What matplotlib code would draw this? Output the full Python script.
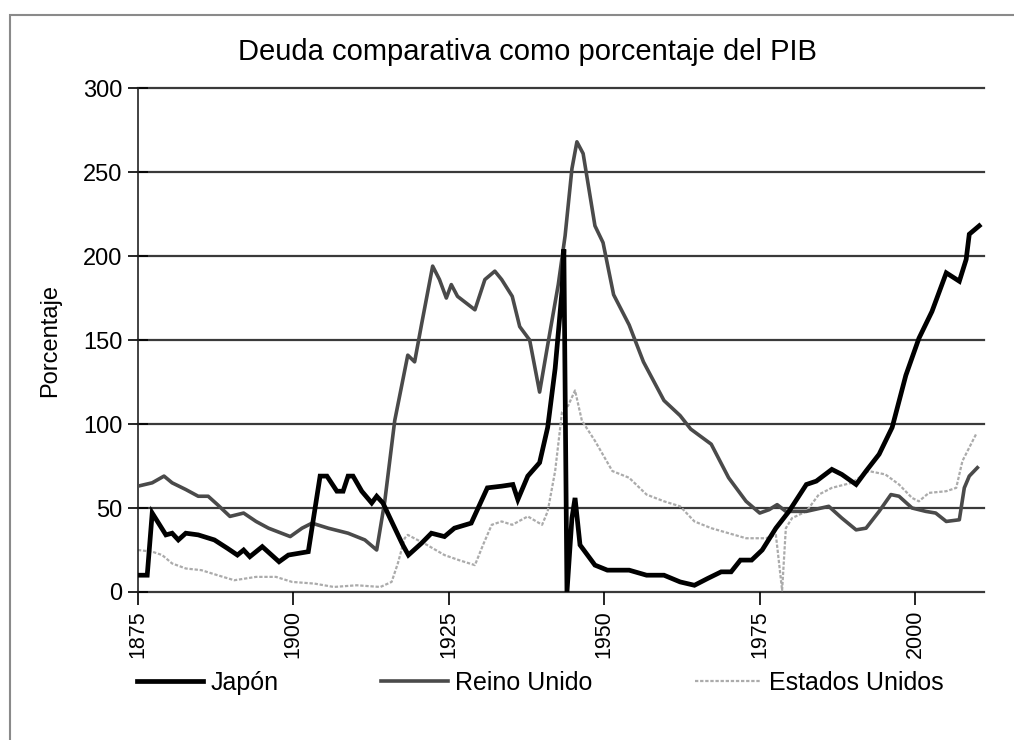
import matplotlib
matplotlib.use('Agg')
import matplotlib.pyplot as plt
from matplotlib.patches import Rectangle

plt.rcParams['font.family'] = ['Liberation Sans', 'DejaVu Sans']

# Valores (anio, % del PIB)
japan_years = [1875, 1876.5, 1877.3, 1879.5, 1880.5, 1881.5, 1882.7, 1884.7, 1887.3, 1889.4,
               1891, 1892, 1893, 1895, 1897.7, 1899.2, 1902.4, 1904.3, 1905.4, 1907,
               1908, 1908.8, 1909.6, 1911, 1912.6, 1913.4, 1914.4, 1915.8, 1917.6, 1918.5,
               1920.6, 1922.2, 1924.3, 1925.9, 1928.6, 1931.2, 1933.5, 1935.3, 1936.1, 1937.7,
               1939.6, 1940.9, 1942.1, 1943.2, 1943.5, 1944, 1944.8, 1945.3, 1946.1, 1948.5,
               1950.5, 1954, 1956.8, 1959.6, 1962.2, 1964.5, 1966.6, 1968.8, 1970.4, 1971.9,
               1973.7, 1975.4, 1977.6, 1979.7, 1982.5, 1984.1, 1986.6, 1988.2, 1990.5, 1992.1,
               1994.2, 1996.3, 1998.5, 2000.6, 2002.7, 2005, 2007.1, 2008.2, 2008.7, 2010.3]
japan_values = [10, 10, 47, 34, 35, 31, 35, 34, 31, 26,
                22, 25, 21, 27, 18, 22, 24, 69, 69, 60,
                60, 69, 69, 60, 53, 57, 53, 42, 28, 22,
                29, 35, 33, 38, 41, 62, 63, 64, 55, 69,
                77, 98, 133, 179, 204, 0, 44, 56, 28, 16,
                13, 13, 10, 10, 6, 4, 8, 12, 12, 19,
                19, 25, 38, 48, 64, 66, 73, 70, 64, 72,
                82, 98, 129, 151, 167, 190, 185, 198, 213, 218]

uk_years = [1875, 1877.3, 1879.2, 1880.5, 1882.7, 1884.7, 1886.3, 1887.8, 1889.8, 1892,
            1894, 1896, 1899.5, 1901.4, 1903, 1905.6, 1908.8, 1911.5, 1913.4, 1914.7,
            1916.3, 1918.4, 1919.5, 1920.6, 1922.4, 1923.5, 1924.6, 1925.4, 1926.4, 1929.2,
            1930.8, 1932.4, 1933.5, 1935.2, 1936.4, 1938, 1939.6, 1940.9, 1942.6, 1943.7,
            1944.8, 1945.6, 1946.6, 1948.5, 1949.8, 1951.5, 1954, 1956.3, 1959.6, 1962.2,
            1963.9, 1967.2, 1970, 1972.8, 1975, 1976.5, 1977.8, 1979.2, 1982.5, 1986.1,
            1988.2, 1990.5, 1992.1, 1994.2, 1996.1, 1997.4, 1999.5, 2001.7, 2003.3, 2005,
            2007.1, 2007.9, 2008.7, 2010]
uk_values = [63, 65, 69, 65, 61, 57, 57, 52, 45, 47,
             42, 38, 33, 38, 41, 38, 35, 31, 25, 54,
             102, 141, 137, 159, 194, 186, 175, 183, 176, 168,
             186, 191, 186, 176, 158, 150, 119, 147, 183, 212,
             252, 268, 261, 218, 208, 177, 159, 137, 114, 105,
             97, 88, 68, 54, 47, 49, 52, 48, 48, 51,
             44, 37, 38, 48, 58, 57, 50, 48, 47, 42,
             43, 62, 69, 74]

us_years = [1875, 1877.3, 1878.9, 1880.5, 1882.7, 1885.2, 1887.8, 1890.5, 1894, 1897.2,
            1899.8, 1903.4, 1906.5, 1910.2, 1914, 1915.8, 1916.8, 1917.9, 1918.4, 1921.5,
            1924.3, 1926.6, 1929.2, 1930.5, 1931.9, 1933.5, 1935.2, 1937.7, 1940, 1940.9,
            1942.1, 1943.2, 1944.2, 1945.3, 1946.4, 1948.5, 1951.3, 1954, 1956.8, 1959.6,
            1962.2, 1964.5, 1967.2, 1970, 1972.8, 1976, 1977.6, 1978.6, 1979.2, 1980.2,
            1982.5, 1984.5, 1986.6, 1989.8, 1992.5, 1995.2, 1997.4, 1999.5, 2000.6, 2002.2,
            2005, 2006.6, 2007.6, 2008.7, 2009.8]
us_values = [25, 24, 22, 17, 14, 13, 10, 7, 9, 9,
             6, 5, 3, 4, 3, 6, 17, 32, 34, 28,
             22, 19, 16, 28, 40, 42, 40, 45, 40, 48,
             72, 107, 111, 120, 102, 90, 72, 68, 58, 54,
             51, 42, 38, 35, 32, 32, 34, 1, 38, 44,
             48, 58, 62, 65, 72, 70, 64, 56, 54, 59,
             60, 62, 78, 86, 94]

y_ticks = [0, 50, 100, 150, 200, 250, 300]
x_ticks = [1875, 1900, 1925, 1950, 1975, 2000]

fig = plt.figure(figsize=(10.14, 7.4), dpi=100)
ax = fig.add_axes([0.136, 0.2, 0.834, 0.681])

# lineas horizontales de la grilla
for yv in y_ticks:
    ax.axhline(yv, color='#3a3a3a', linewidth=1.6, zorder=1, clip_on=False)

ax.plot(us_years, us_values, color='#ababab', linewidth=1.6, linestyle=(0, (1.5, 0.8)),
        label='Estados Unidos', zorder=2)
ax.plot(uk_years, uk_values, color='#4a4a4a', linewidth=2.6, label='Reino Unido', zorder=3)
ax.plot(japan_years, japan_values, color='black', linewidth=3.4, label='Japón', zorder=4,
        solid_joinstyle='miter')

ax.set_xlim(1875, 2011)
ax.set_ylim(0, 300)
ax.set_yticks(y_ticks)
ax.set_xticks(x_ticks)
ax.set_xticklabels([str(x) for x in x_ticks], rotation=90)
ax.tick_params(axis='y', direction='inout', length=14, width=1.2, labelsize=17, pad=4)
ax.tick_params(axis='x', direction='out', length=9, width=1.2, labelsize=15.5, pad=4)

for side in ['top', 'right', 'bottom']:
    ax.spines[side].set_visible(False)
ax.spines['left'].set_linewidth(1.2)
ax.spines['left'].set_color('#222222')

ax.set_ylabel('Porcentaje', fontsize=17, labelpad=16)
fig.text(0.52, 0.93, 'Deuda comparativa como porcentaje del PIB', ha='center', va='center',
         fontsize=21)

handles, labels = ax.get_legend_handles_labels()
order = [2, 1, 0]
fig.legend([handles[i] for i in order], [labels[i] for i in order], loc='center left',
           bbox_to_anchor=(0.135, 0.077), ncol=3, frameon=False, fontsize=18,
           handlelength=2.65, handletextpad=0.3, columnspacing=4.1,
           borderpad=0, borderaxespad=0)

# marco de la pagina escaneada
fig.add_artist(Rectangle((0.01, -0.01), 1.2, 0.99, transform=fig.transFigure, fill=False,
                         edgecolor='#8a8a8a', linewidth=1.5))

fig.savefig('out.png', dpi=100)
